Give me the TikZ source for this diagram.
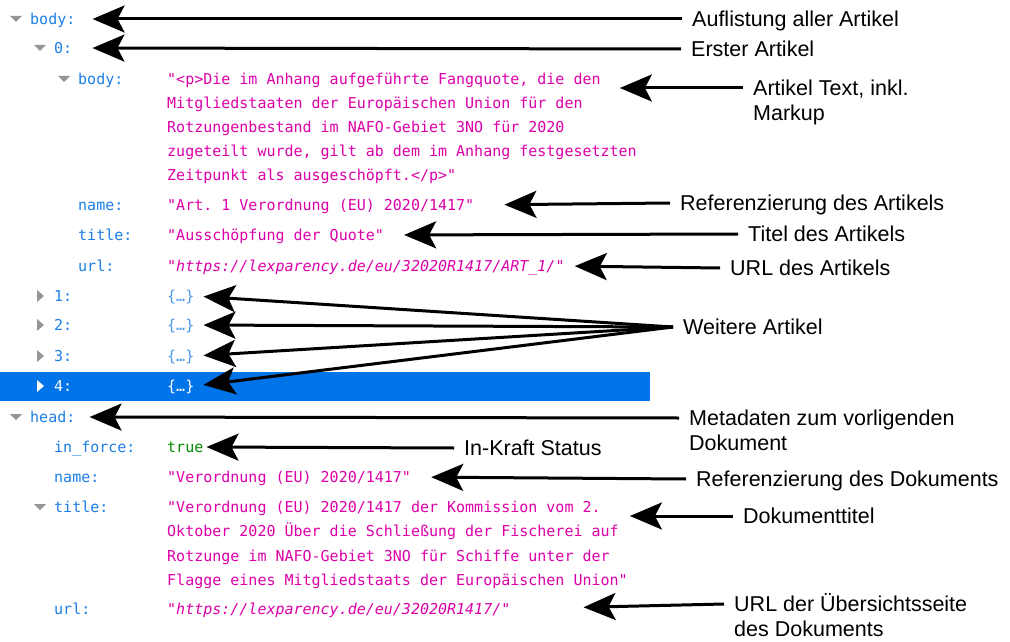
\documentclass[tikz,border=0pt]{standalone}
\usepackage{fontspec}
\setmainfont{Liberation Sans}
\setmonofont{DejaVu Sans Mono}
\usetikzlibrary{arrows.meta,positioning}
\definecolor{keyblue}{HTML}{1C7EE6}
\definecolor{braceblue}{HTML}{4A98E8}
\definecolor{strpink}{HTML}{DD00A9}
\definecolor{truegreen}{HTML}{058B00}
\definecolor{selblue}{HTML}{0074E8}
\definecolor{trigray}{HTML}{959595}
\newcommand{\jsonfont}{\fontsize{15}{18}\selectfont\ttfamily}
\newcommand{\notefont}{\fontsize{21.5}{25}\selectfont}
\begin{document}
\begin{tikzpicture}[x=1pt, y=-1pt,
  key/.style = {anchor=west, inner sep=0pt, text height=11pt, text depth=0pt, font=\jsonfont, text=keyblue},
  str/.style = {key, text=strpink},
  brace/.style = {key, text=braceblue},
  note/.style = {anchor=west, inner xsep=10pt, inner ysep=0pt, text height=15.5pt, text depth=0pt, font=\notefont},
  arr/.style = {-{Stealth[length=32pt, width=27pt, inset=7pt]}, line width=3pt},
  tri/.style = {fill=trigray}]
  \useasboundingbox (0,0) rectangle (1010,642);
  \fill[selblue] (0,372) rectangle (650,401);
  \foreach \x/\y in {16/19, 40/48, 64/79, 16/417, 40/507}
    \fill[tri] (\x-6,\y-3) -- (\x+6,\y-3) -- (\x,\y+3) -- cycle;
  \foreach \y in {296, 325, 356}
    \fill[tri] (37,\y-6) -- (37,\y+6) -- (44,\y) -- cycle;
  \fill[white] (37,380) -- (37,392) -- (44,386) -- cycle;

  \node[key] (kbody) at (30,19) {body:};
  \node[key] (k0) at (54,48) {0:};
  \node[key] (kbody0) at (78,79) {body:};
  \node[str] (vbodyA) at (167,79) {"<p>Die im Anhang aufgeführte Fangquote, die den};
  \node[str] (vbodyB) at (167,103) {Mitgliedstaaten der Europäischen Union für den};
  \node[str] (vbodyC) at (167,127) {Rotzungenbestand im NAFO-Gebiet 3NO für 2020};
  \node[str] (vbodyD) at (167,151) {zugeteilt wurde, gilt ab dem im Anhang festgesetzten};
  \node[str] (vbodyE) at (167,175) {Zeitpunkt als ausgeschöpft.</p>"};
  \node[key] (kname0) at (78,205) {name:};
  \node[str] (vname0) at (167,205) {"Art. 1 Verordnung (EU) 2020/1417"};
  \node[key] (ktitle0) at (78,235) {title:};
  \node[str] (vtitle0) at (167,235) {"Ausschöpfung der Quote"};
  \node[key] (kurl0) at (78,266) {url:};
  \node[str] (vurl0) at (167,266) {"\textit{https://lexparency.de/eu/32020R1417/ART\_1/}"};
  \foreach \i/\y in {1/296, 2/325, 3/356} {
    \node[key] (k\i) at (54,\y) {\i:};
    \node[brace] (v\i) at (167,\y) {\{…\}};
  }
  \node[key, text=white] (k4) at (54,386) {4:};
  \node[brace, text=white] (v4) at (167,386) {\{…\}};
  \node[key] (khead) at (30,417) {head:};
  \node[key] (kforce) at (54,447) {in\_force:};
  \node[key, text=truegreen] (vforce) at (167,447) {true};
  \node[key] (kname) at (54,477) {name:};
  \node[str] (vname) at (167,477) {"Verordnung (EU) 2020/1417"};
  \node[key] (ktitle) at (54,507) {title:};
  \node[str] (vtitleA) at (167,507) {"Verordnung (EU) 2020/1417 der Kommission vom 2.};
  \node[str] (vtitleB) at (167,531) {Oktober 2020 Über die Schließung der Fischerei auf};
  \node[str] (vtitleC) at (167,556) {Rotzunge im NAFO-Gebiet 3NO für Schiffe unter der};
  \node[str] (vtitleD) at (167,580) {Flagge eines Mitgliedstaats der Europäischen Union"};
  \node[key] (kurl) at (54,609) {url:};
  \node[str] (vurl) at (167,609) {"\textit{https://lexparency.de/eu/32020R1417/}"};

  \node[note] (nlist) at (682,19) {Auflistung aller Artikel};
  \node[note] (nfirst) at (681,49) {Erster Artikel};
  \node[note] (ntext) at (743,88) {Artikel Text, inkl.};
  \node[note, below right=9pt and 0pt of ntext.south west] (ntextB) {Markup};
  \node[note] (nnameA) at (670,203) {Referenzierung des Artikels};
  \node[note] (ntitleA) at (738,234) {Titel des Artikels};
  \node[note] (nurlA) at (720,268) {URL des Artikels};
  \node[note] (nmore) at (673,327) {Weitere Artikel};
  \node[note] (nhead) at (679,418) {Metadaten zum vorligenden};
  \node[note, below right=9pt and 0pt of nhead.south west] (nheadB) {Dokument};
  \node[note] (nforce) at (454,448) {In-Kraft Status};
  \node[note] (nname) at (686,479) {Referenzierung des Dokuments};
  \node[note] (ntitle) at (733,516) {Dokumenttitel};
  \node[note] (nurl) at (724,604) {URL der Übersichtsseite};
  \node[note, below right=9pt and 0pt of nurl.south west] (nurlB) {des Dokuments};

  \draw[arr, shorten >=17pt] (nlist.west) -- (kbody.east);
  \draw[arr, shorten >=20pt] (nfirst.west) -- (k0.east);
  \draw[arr, shorten >=19pt] (ntext.west) -- (ntext.west -| vbodyA.east);
  \draw[arr, shorten >=30pt] (nnameA.west) -- (vname0.east);
  \draw[arr, shorten >=20pt] (ntitleA.west) -- (vtitle0.east);
  \draw[arr, shorten >=10pt] (nurlA.west) -- (vurl0.east);
  \foreach \i in {1,...,4}
    \draw[arr, shorten >=9pt] (nmore.west) -- (v\i.east);
  \draw[arr, shorten >=14pt] (nhead.west) -- (khead.east);
  \draw[arr, shorten >=3pt] (nforce.west) -- (vforce.east);
  \draw[arr, shorten >=20pt] (nname.west) -- (vname.east);
  \draw[arr, shorten >=29pt] (ntitle.west) -- (ntitle.west -| vtitleA.east);
  \draw[arr, shorten >=73pt] (nurl.west) -- (vurl.east);
\end{tikzpicture}
\end{document}
